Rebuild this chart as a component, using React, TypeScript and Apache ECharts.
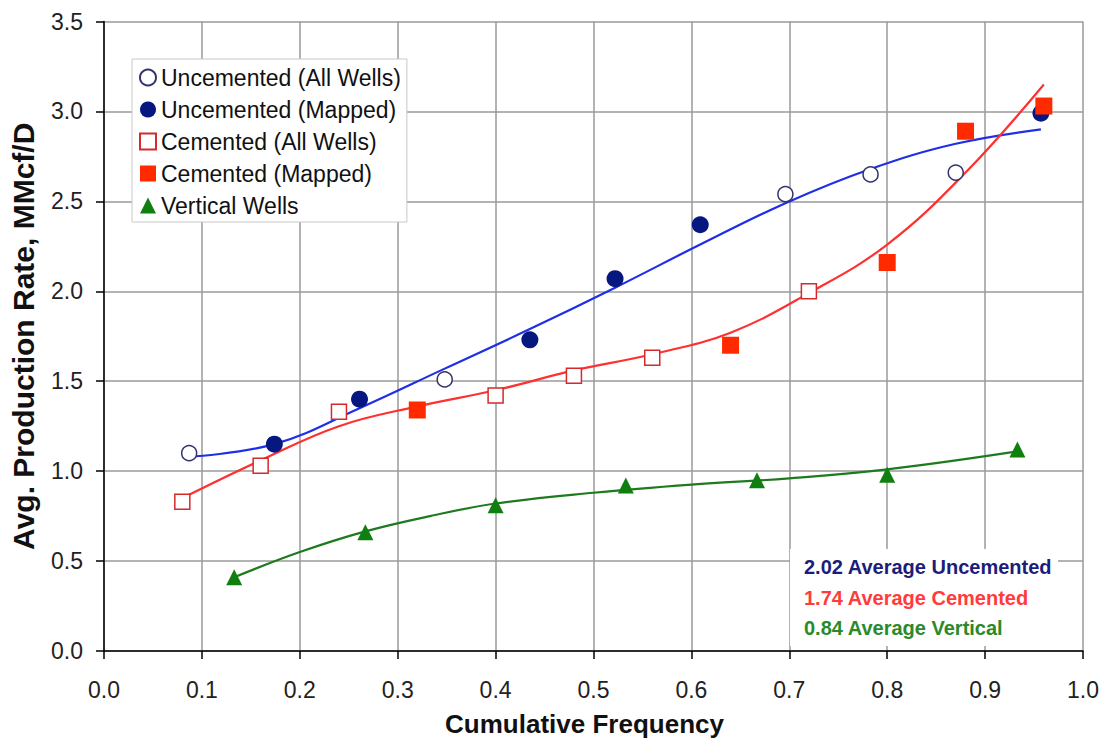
import React, { useEffect, useRef } from "react";
import * as echarts from "echarts";

const xTicks = [0, 0.1, 0.2, 0.3, 0.4, 0.5, 0.6, 0.7, 0.8, 0.9, 1.0];
const yTicks = [0, 0.5, 1.0, 1.5, 2.0, 2.5, 3.0, 3.5];

const uncementedAll = [[0.087, 1.10], [0.348, 1.51], [0.696, 2.54], [0.783, 2.65], [0.870, 2.66]];
const uncementedMapped = [[0.174, 1.15], [0.261, 1.40], [0.435, 1.73], [0.522, 2.07], [0.609, 2.37], [0.957, 2.99]];
const cementedAll = [[0.08, 0.83], [0.16, 1.03], [0.24, 1.33], [0.40, 1.42], [0.48, 1.53], [0.56, 1.63], [0.72, 2.00]];
const cementedMapped = [[0.32, 1.34], [0.64, 1.70], [0.80, 2.16], [0.88, 2.89], [0.96, 3.03]];
const verticalWells = [[0.133, 0.41], [0.267, 0.66], [0.40, 0.81], [0.533, 0.92], [0.667, 0.95], [0.80, 0.98], [0.933, 1.12]];

// trend curves
const uncementedTrend = [[0.087, 1.08], [0.174, 1.15], [0.261, 1.35], [0.348, 1.57], [0.435, 1.79], [0.522, 2.02], [0.609, 2.26], [0.696, 2.49], [0.783, 2.68], [0.870, 2.82], [0.957, 2.90]];
const cementedTrend = [[0.08, 0.85], [0.16, 1.06], [0.24, 1.25], [0.32, 1.36], [0.40, 1.45], [0.48, 1.56], [0.56, 1.65], [0.64, 1.77], [0.72, 1.99], [0.80, 2.26], [0.88, 2.66], [0.96, 3.15]];
const verticalTrend = [[0.133, 0.41], [0.2, 0.55], [0.267, 0.665], [0.333, 0.75], [0.4, 0.82], [0.5, 0.88], [0.6, 0.925], [0.7, 0.96], [0.8, 1.01], [0.933, 1.11]];

const averages = [
  { text: "2.02 Average Uncemented", color: "#1c1c7a" },
  { text: "1.74 Average Cemented", color: "#ff3b3b" },
  { text: "0.84 Average Vertical", color: "#2a8a2a" },
];

const FONT = "'Liberation Sans', Arial, Helvetica, sans-serif";

export default function App() {
  const ref = useRef<HTMLDivElement>(null);
  useEffect(() => {
    if (!ref.current) return;
    const chart = echarts.init(ref.current, undefined, { renderer: "svg" });
    const option: any = {
      animation: false,
      backgroundColor: "#ffffff",
      textStyle: { fontFamily: FONT },
      grid: { left: 96, right: 18, top: 21.5, bottom: 85, containLabel: false },
      xAxis: {
        type: "value",
        min: xTicks[0],
        max: xTicks[xTicks.length - 1],
        interval: 0.1,
        name: "Cumulative Frequency",
        nameLocation: "middle",
        nameGap: 60,
        nameTextStyle: { fontSize: 26, fontWeight: "bold", color: "#111", fontFamily: FONT, padding: [0, 18, 0, 0] },
        axisLine: { show: true, onZero: false, lineStyle: { color: "#000", width: 1.5 } },
        axisTick: { show: true, length: 8, lineStyle: { color: "#000", width: 1.5 } },
        axisLabel: { fontSize: 23, color: "#222", margin: 27, fontFamily: FONT, formatter: (v: number) => v.toFixed(1) },
        splitLine: { show: true, lineStyle: { color: "#9a9a9a", width: 1.5 } },
      },
      yAxis: {
        type: "value",
        min: yTicks[0],
        max: yTicks[yTicks.length - 1],
        interval: 0.5,
        name: "Avg. Production Rate, MMcf/D",
        nameLocation: "middle",
        nameGap: 66,
        nameTextStyle: { fontSize: 30, fontWeight: "bold", color: "#111", fontFamily: FONT },
        axisLine: { show: true, onZero: false, lineStyle: { color: "#000", width: 1.5 } },
        axisTick: { show: true, length: 8, lineStyle: { color: "#000", width: 1.5 } },
        axisLabel: { fontSize: 23, color: "#222", margin: 21, fontFamily: FONT, formatter: (v: number) => v.toFixed(1) },
        splitLine: { show: true, lineStyle: { color: "#9a9a9a", width: 1.5 } },
      },
      legend: {
        orient: "vertical",
        left: 132,
        top: 59,
        padding: [7, 6, 5, 7],
        itemWidth: 16,
        itemHeight: 16,
        itemGap: 9,
        backgroundColor: "#ffffff",
        borderColor: "#c8c8c8",
        borderWidth: 1,
        textStyle: { fontSize: 23, lineHeight: 23, color: "#111", fontFamily: FONT },
        data: [
          "Uncemented (All Wells)",
          "Uncemented (Mapped)",
          "Cemented (All Wells)",
          "Cemented (Mapped)",
          "Vertical Wells",
        ],
      },
      graphic: [
        {
          type: "rect",
          z: 10,
          shape: { x: 790, y: 549, width: 268, height: 97 },
          style: { fill: "#ffffff" },
        },
        ...averages.map((a, i) => ({
          type: "text",
          z: 11,
          x: 804,
          y: 567 + i * 30.5,
          style: {
            text: a.text,
            fill: a.color,
            fontSize: 20,
            fontWeight: "bold",
            fontFamily: FONT,
            verticalAlign: "middle",
          },
        })),
      ],
      series: [
        {
          type: "line",
          name: "uncTrend",
          data: uncementedTrend,
          smooth: 0.4,
          showSymbol: false,
          symbol: "none",
          z: 2,
          lineStyle: { color: "#1f2fe6", width: 2.2 },
        },
        {
          type: "line",
          name: "cemTrend",
          data: cementedTrend,
          smooth: 0.4,
          showSymbol: false,
          symbol: "none",
          z: 2,
          lineStyle: { color: "#ff3030", width: 2.2 },
        },
        {
          type: "line",
          name: "vertTrend",
          data: verticalTrend,
          smooth: 0.4,
          showSymbol: false,
          symbol: "none",
          z: 2,
          lineStyle: { color: "#1e7a1e", width: 2.2 },
        },
        {
          type: "scatter",
          name: "Uncemented (All Wells)",
          data: uncementedAll,
          symbol: "circle",
          symbolSize: 15,
          z: 3,
          itemStyle: { color: "#ffffff", borderColor: "#33336e", borderWidth: 1.5, opacity: 1 },
        },
        {
          type: "scatter",
          name: "Uncemented (Mapped)",
          data: uncementedMapped,
          symbol: "circle",
          symbolSize: 17,
          z: 3,
          itemStyle: { color: "#061780", opacity: 1 },
        },
        {
          type: "scatter",
          name: "Cemented (All Wells)",
          data: cementedAll,
          symbol: "rect",
          symbolSize: 15,
          z: 3,
          itemStyle: { color: "#ffffff", borderColor: "#d42a2a", borderWidth: 1.5, opacity: 1 },
        },
        {
          type: "scatter",
          name: "Cemented (Mapped)",
          data: cementedMapped,
          symbol: "rect",
          symbolSize: 17,
          z: 3,
          itemStyle: { color: "#ff2a00", opacity: 1 },
        },
        {
          type: "scatter",
          name: "Vertical Wells",
          data: verticalWells,
          symbol: "triangle",
          symbolSize: 16,
          z: 3,
          itemStyle: { color: "#0f7f0f", opacity: 1 },
        },
      ],
    };
    chart.setOption(option);
    return () => chart.dispose();
  }, []);
  return (
    <div
      ref={ref}
      style={{ position: "fixed", left: 0, top: 0, width: 1102, height: 742, background: "#fff" }}
    />
  );
}
